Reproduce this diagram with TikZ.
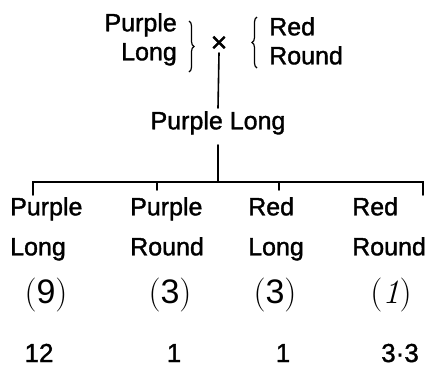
\documentclass[tikz,border=0pt]{standalone}
\usepackage{fontspec}
\setmainfont[FakeBold=1.4,AutoFakeBold=1.4]{Liberation Sans}
\newfontfamily\cntfont{Latin Modern Roman}
\newfontfamily\digfont{Liberation Sans}
\usetikzlibrary{decorations.pathreplacing}
\tikzset{
  lbl/.style={inner sep=0pt, font=\fontsize{25}{29}\selectfont\bfseries},
  leaf/.style={inner sep=0pt, align=left, anchor=north west, font=\fontsize{25}{40}\selectfont\bfseries},
  cnt/.style={inner sep=0pt, font=\cntfont\fontsize{34}{34}\selectfont},
  num/.style={inner sep=0pt, anchor=base, font=\fontsize{26}{26}\selectfont\bfseries},
  ln/.style={line width=1.6pt, line cap=round},
  br/.style={line width=1.2pt, decorate, decoration={brace, amplitude=5pt}}
}
\newcommand{\dg}[1]{{\digfont\fontsize{34}{34}\selectfont #1}}
\begin{document}
\begin{tikzpicture}[x=1pt, y=-1pt]
\useasboundingbox (0,0) rectangle (436,373);
% parents
\node[lbl, align=right, anchor=north east] (pl) at (177,13) {Purple\\Long};
\node[lbl, align=left, anchor=north west] (rr) at (269,17) {Red\\Round};
\node[inner sep=1pt, font=\fontsize{28}{28}\selectfont] (times) at (219,44) {×};
\coordinate (b1t) at (189,21);
\coordinate (b1b) at (189,72);
\coordinate (b2t) at (257,17);
\coordinate (b2b) at (257,68);
\draw[br] (b1t) -- (b1b);
\draw[br] (b2b) -- (b2t);
% F1
\node[lbl, anchor=north] (mid) at (218,111) {Purple Long};
\coordinate (m1) at (218,108);
\coordinate (m2) at (218,145);
\coordinate (barC) at (218,182);
\draw[ln] (times.south) -- (m1);
\draw[ln] (m2) -- (barC);
% bar and ticks
\coordinate (bl) at (33,182);
\coordinate (blt) at (33,195);
\coordinate (br) at (423,182);
\coordinate (brt) at (423,195);
\coordinate (t2) at (157,182);
\coordinate (t2b) at (157,190);
\coordinate (t3) at (279,182);
\coordinate (t3b) at (279,190);
\draw[ln] (blt) -- (bl) -- (br) -- (brt);
\draw[ln] (t2) -- (t2b);
\draw[ln] (t3) -- (t3b);
% offspring
\node[leaf] (c1) at (10,197) {Purple\\Long};
\node[leaf] (c2) at (130,197) {Purple\\Round};
\node[leaf] (c3) at (248,197) {Red\\Long};
\node[leaf] (c4) at (352,197) {Red\\Round};
% expected
\node[cnt] (e1) at (46,295) {(\dg{9})};
\node[cnt] (e2) at (170,295) {(\dg{3})};
\node[cnt] (e3) at (275,295) {(\dg{3})};
\node[cnt] (e4) at (391,295) {(\textit{1})};
% observed
\node[num] (o1) at (39,362) {12};
\node[num] (o2) at (174,362) {1};
\node[num] (o3) at (283,362) {1};
\node[num] (o4) at (400,362) {3·3};
\end{tikzpicture}
\end{document}
